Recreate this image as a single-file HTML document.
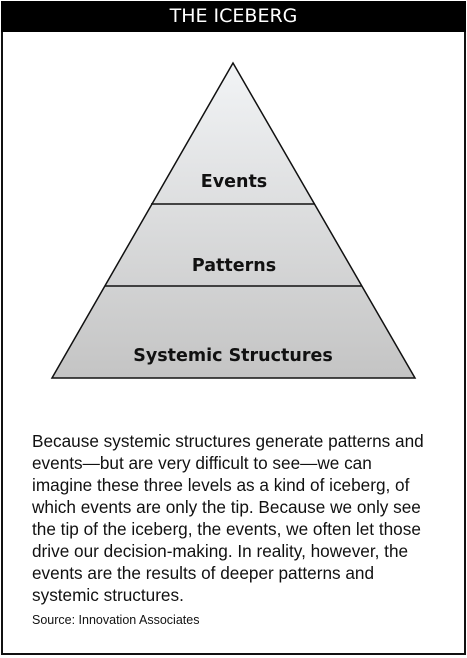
<!DOCTYPE html>
<html><head><style>
html,body{margin:0;padding:0;background:#fff;}
body{width:467px;height:658px;position:relative;overflow:hidden;font-family:"Liberation Sans",sans-serif;}
.frame{position:absolute;left:1px;top:1px;width:461px;height:650px;border:2px solid #111;}
.hdr{position:absolute;left:1px;top:1px;width:465px;height:31px;background:#000;color:#fff;text-align:center;font-size:19px;line-height:31px;font-family:"DejaVu Sans",sans-serif;}
.txt{position:absolute;left:32px;top:430px;font-size:17.2px;line-height:22px;color:#111;white-space:nowrap;}
.src{position:absolute;left:32px;top:613px;font-size:12.5px;color:#111;}
</style></head><body>
<div class="frame"></div>
<div class="hdr">THE ICEBERG</div>
<svg width="467" height="658" style="position:absolute;left:0;top:0">
<defs><linearGradient id="g" x1="0" y1="63" x2="0" y2="378" gradientUnits="userSpaceOnUse">
<stop offset="0" stop-color="#f2f4f6"/><stop offset="1" stop-color="#c4c4c4"/></linearGradient></defs>
<polygon points="233,63 415,378 52,378" fill="url(#g)" stroke="#111" stroke-width="1.5"/>
<line x1="151" y1="204" x2="315" y2="204" stroke="#111" stroke-width="1.5"/>
<line x1="105" y1="286" x2="362" y2="286" stroke="#111" stroke-width="1.5"/>
<g font-family="'DejaVu Sans',sans-serif" font-size="17.5" font-weight="bold" text-anchor="middle" fill="#111">
<text x="234" y="187">Events</text>
<text x="234" y="271">Patterns</text>
<text x="233" y="361">Systemic Structures</text>
</g>
</svg>
<div class="txt">Because systemic structures generate patterns and<br>events—but are very difficult to see—we can<br>imagine these three levels as a kind of iceberg, of<br>which events are only the tip. Because we only see<br>the tip of the iceberg, the events, we often let those<br>drive our decision-making. In reality, however, the<br>events are the results of deeper patterns and<br>systemic structures.</div>
<div class="src">Source: Innovation Associates</div>
</body></html>
